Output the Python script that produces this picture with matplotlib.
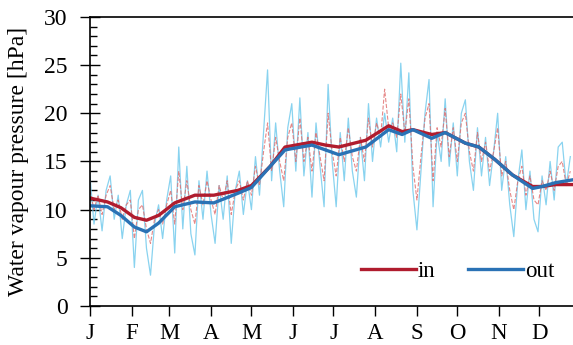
import numpy as np
import matplotlib.pyplot as plt
from matplotlib.ticker import MultipleLocator

plt.rcParams['font.family'] = ['Liberation Serif', 'DejaVu Serif']

# smoothed series (day of year, in, out)
sm_day = [0, 13, 23, 33, 42, 51, 63, 78, 92, 110, 120, 134, 145, 165, 175, 185, 205, 222,
          232, 240, 254, 264, 279, 289, 301, 314, 329, 336, 346, 359]
sm_in = [11.2, 10.8, 10.2, 9.2, 8.9, 9.4, 10.7, 11.5, 11.5, 12.0, 12.5, 14.5, 16.5, 17.0, 16.7,
         16.5, 17.2, 18.7, 18.1, 18.3, 17.8, 18.0, 16.9, 16.5, 15.2, 13.6, 12.4, 12.4, 12.6, 12.6]
sm_out = [10.4, 10.3, 9.4, 8.2, 7.7, 8.6, 10.3, 10.8, 10.7, 11.7, 12.3, 14.5, 16.2, 16.7, 16.2,
          15.7, 16.5, 18.3, 17.8, 18.3, 17.4, 18.0, 16.9, 16.5, 15.2, 13.6, 12.2, 12.4, 12.8, 13.1]

# daily-ish raw readings, every 3 days
raw_day = list(range(0, 360, 3))
raw_out = [13.5, 8.5, 11.5, 7.8, 12.0, 13.5, 9.0, 11.5, 7.0, 10.5,
           12.0, 4.0, 11.0, 12.0, 6.0, 3.2, 8.5, 10.5, 7.0, 11.0,
           13.5, 5.5, 16.5, 8.0, 14.5, 7.5, 5.3, 13.0, 9.0, 14.0,
           9.5, 6.5, 12.5, 9.0, 13.5, 6.5, 12.0, 14.0, 9.5, 13.0,
           10.0, 15.5, 11.5, 18.0, 24.5, 13.0, 19.0, 14.0, 10.3, 18.5,
           21.0, 14.0, 21.6, 13.5, 18.0, 11.3, 19.0, 14.5, 10.3, 23.0,
           15.0, 10.3, 18.0, 13.0, 19.5, 14.0, 11.3, 17.5, 13.0, 21.0,
           15.0, 19.5, 16.5, 20.0, 17.0, 19.5, 16.0, 25.2, 17.0, 24.2,
           12.0, 7.9, 14.0, 20.0, 23.5, 10.3, 18.0, 15.0, 21.5, 14.5,
           19.0, 13.5, 20.0, 21.4, 15.0, 12.0, 18.5, 13.5, 17.5, 12.5,
           16.0, 20.0, 12.0, 15.5, 10.5, 7.2, 13.0, 16.2, 10.0, 14.0,
           9.0, 7.7, 13.5, 10.5, 15.0, 11.0, 16.5, 17.0, 12.5, 15.5]
raw_in = [12.0, 10.0, 11.5, 9.5, 11.5, 12.5, 10.0, 11.0, 9.0, 10.5,
          11.0, 7.0, 10.0, 10.5, 8.0, 6.5, 9.0, 10.0, 8.5, 10.5,
          12.0, 8.5, 14.0, 10.0, 13.0, 10.0, 8.5, 12.5, 10.5, 13.0,
          11.0, 9.5, 12.5, 11.0, 13.0, 9.5, 12.0, 13.0, 11.0, 13.0,
          11.5, 14.5, 12.5, 16.0, 19.0, 14.0, 17.5, 15.0, 13.0, 17.5,
          19.0, 15.0, 19.5, 15.0, 17.5, 14.0, 18.0, 15.5, 13.0, 20.0,
          16.0, 13.5, 17.5, 15.0, 18.5, 15.5, 14.0, 17.5, 15.0, 19.5,
          16.5, 19.0, 17.5, 22.5, 18.5, 19.0, 17.5, 22.0, 18.0, 21.5,
          14.5, 11.0, 15.5, 19.5, 21.0, 13.0, 18.5, 16.5, 20.5, 15.5,
          18.5, 15.0, 19.0, 20.0, 16.0, 14.0, 18.0, 15.0, 17.0, 14.0,
          16.0, 18.5, 13.5, 15.0, 12.0, 10.0, 13.0, 14.5, 11.5, 13.5,
          11.0, 10.5, 13.0, 12.0, 14.0, 12.0, 14.5, 15.0, 12.5, 14.0]

month_start = [0, 31, 59, 90, 120, 151, 181, 212, 243, 273, 304, 334]
month_lab = ['J', 'F', 'M', 'A', 'M', 'J', 'J', 'A', 'S', 'O', 'N', 'D']

fig = plt.figure(figsize=(5.73, 3.45), dpi=100)
ax = fig.add_axes([0.157, 0.113, 0.843, 0.838])

ax.plot(raw_day, raw_out, color='#6cc8ec', lw=0.9, alpha=0.8)
ax.plot(raw_day, raw_in, color='#e06a6a', lw=0.8, ls='--', alpha=0.8)
ax.plot(sm_day, sm_in, color='#b01c2e', lw=2.4, label='in')
ax.plot(sm_day, sm_out, color='#2a72b5', lw=2.4, label='out')

ax.set_xlim(0, 359)
ax.set_ylim(0, 30)
ax.set_xticks(month_start)
ax.set_xticklabels(month_lab)
ax.yaxis.set_major_locator(MultipleLocator(5))
ax.yaxis.set_minor_locator(MultipleLocator(1))
ax.tick_params(axis='y', which='major', direction='inout', length=14, width=1, labelsize=17, pad=9)
ax.tick_params(axis='y', which='minor', direction='in', length=5, width=1)
ax.tick_params(axis='x', direction='out', length=7, width=1, labelsize=16.5, pad=5)
ax.spines['right'].set_visible(False)
for s in ['left', 'bottom', 'top']:
    ax.spines[s].set_linewidth(1.2)

ax.set_ylabel('Water vapour pressure [hPa]', fontsize=17, labelpad=11)
ax.legend(loc='lower right', bbox_to_anchor=(0.99, 0.035), ncol=2, frameon=False, fontsize=16.5,
          handlelength=2.4, handletextpad=0.1, columnspacing=1.4, borderaxespad=0.2)

fig.savefig('out.png', dpi=100)
